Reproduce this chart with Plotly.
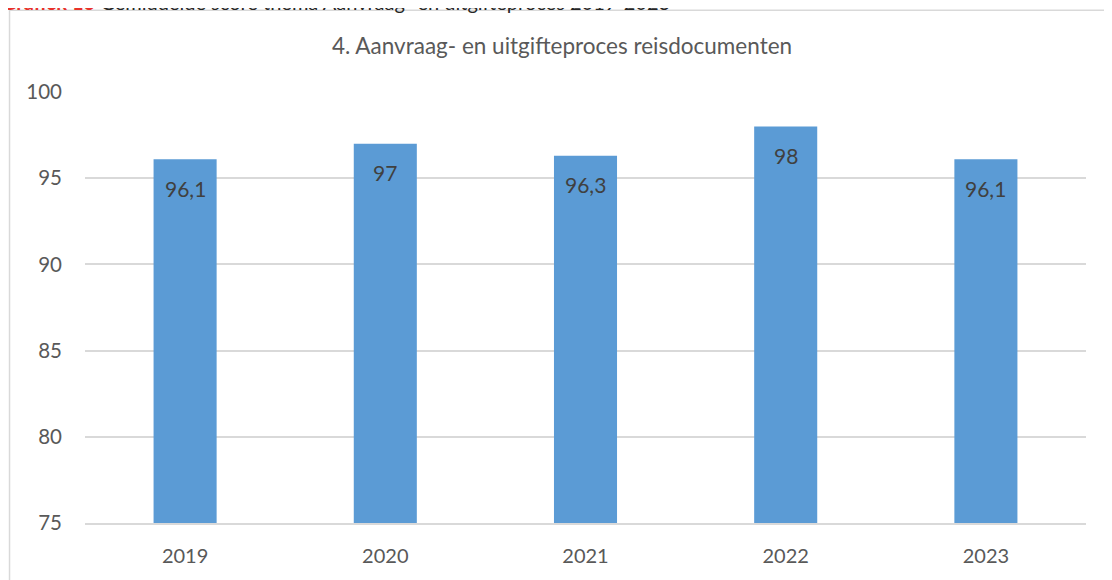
import plotly.graph_objects as go

years = ["2019", "2020", "2021", "2022", "2023"]
scores = [96.1, 97, 96.3, 98, 96.1]
y_ticks = [75, 80, 85, 90, 95, 100]

title_text = "4. Aanvraag- en uitgifteproces reisdocumenten"
caption_red = "Grafiek 13"
caption_rest = " Gemiddelde score thema Aanvraag- en uitgifteproces 2019-2023"

FONT = "Lato, 'Open Sans', sans-serif"
BAR = "#5B9BD5"
GRID = "#D9D9D9"
TXT = "#595959"

fig = go.Figure()
fig.add_trace(go.Bar(x=years, y=scores, marker=dict(color=BAR, line=dict(width=0)),
                     hoverinfo="skip"))

for i, v in enumerate(scores):
    fig.add_annotation(x=i, y=v, yshift=-29, text=f"{v:g}".replace(".", ","),
                       showarrow=False, font=dict(family=FONT, size=21, color="#404040"),
                       xanchor="center", yanchor="middle")

fig.add_annotation(xref="paper", yref="paper", x=-0.0849, y=1.209, xanchor="left", yanchor="middle",
                   text=f"<b><span style='color:#E8312A'>{caption_red}</span></b>{caption_rest}",
                   showarrow=False, font=dict(family=FONT, size=20, color="#262626"))

fig.add_annotation(xref="paper", yref="paper", x=0.4765, y=1.107, xanchor="center", yanchor="middle",
                   text=title_text, showarrow=False, font=dict(family=FONT, size=22.5, color=TXT))

fig.add_shape(type="rect", xref="paper", yref="paper", x0=-0.0754, x1=1.2, y0=-0.3, y1=1.1895,
              line=dict(color=GRID, width=1.5), fillcolor="rgba(0,0,0,0)", layer="below")

fig.update_layout(
    width=1104, height=572,
    margin=dict(l=77, r=26, t=84, b=57),
    paper_bgcolor="white", plot_bgcolor="white",
    bargap=0.685, showlegend=False,
    font=dict(family=FONT, color=TXT, size=20),
)
fig.update_xaxes(type="category", range=[-0.5, len(years) - 0.5], showgrid=False, showline=True,
                 linecolor=GRID, linewidth=1.5, ticks="", ticklabelstandoff=14,
                 tickfont=dict(size=20, color=TXT))
fig.update_yaxes(range=[75, 100], tickvals=y_ticks, showgrid=True, gridcolor=GRID, gridwidth=1.5,
                 zeroline=False, showline=False, ticks="", ticklabelstandoff=22,
                 tickfont=dict(size=20.5, color=TXT))

fig.write_html("out.html")
